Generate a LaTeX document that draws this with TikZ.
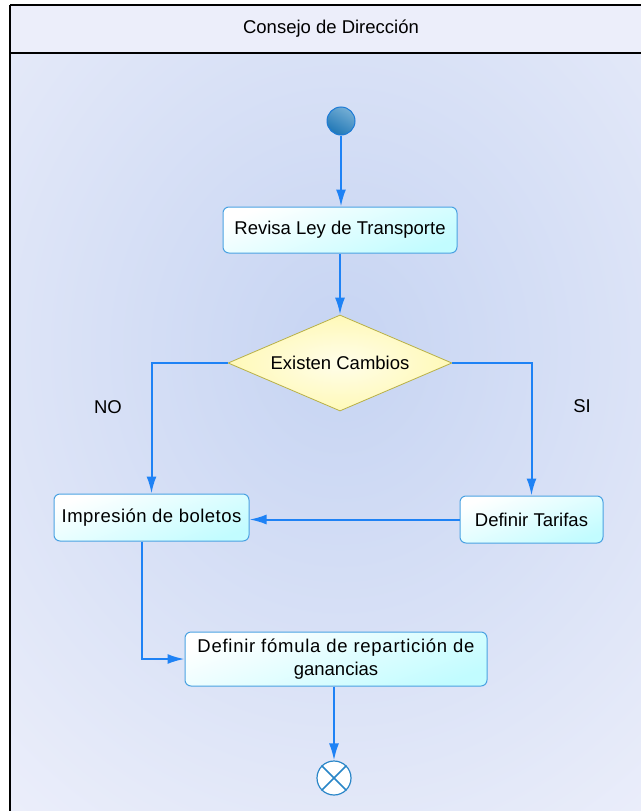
\documentclass[tikz,border=0pt]{standalone}
\usepackage{fontspec}
\setmainfont{Liberation Sans}
\usetikzlibrary{shapes.geometric,arrows.meta}
\definecolor{pagebg}{HTML}{EEF0FB}
\definecolor{glow}{HTML}{C6D4F2}
\definecolor{headbg}{HTML}{ECEEFA}
\definecolor{flow}{HTML}{1E82F5}
\definecolor{boxline}{HTML}{4AA2E2}
\definecolor{boxcyan}{HTML}{C2FCFF}
\definecolor{decline}{HTML}{B8B046}
\definecolor{decfill}{HTML}{FFF9B8}
\definecolor{startdark}{HTML}{2077B6}
\definecolor{startlight}{HTML}{74AED4}
\definecolor{startline}{HTML}{1C7AD6}
\definecolor{endline}{HTML}{2A86C8}
\tikzset{
  boxtext/.style={font=\fontsize{18.5}{23}\selectfont},
  actbox/.style={boxtext, draw=boxline, line width=1pt, rounded corners=6pt,
    top color=white, bottom color=boxcyan, shading angle=20,
    inner sep=0pt, align=center},
  decbox/.style={boxtext, diamond, aspect=2.33, draw=decline, line width=0.8pt,
    inner color=white!70!decfill, outer color=decfill, inner sep=0pt,
    minimum width=224pt, minimum height=96pt},
  flowline/.style={draw=flow, line width=2pt,
    -{Latex[length=17pt,width=10pt]}},
  guard/.style={font=\fontsize{18.5}{22}\selectfont},
}
\begin{document}
\begin{tikzpicture}[x=1pt,y=-1pt]
  \useasboundingbox (0,0) rectangle (640,811);
  % swimlane background with a soft glow behind the flow
  \fill[white] (0,0) rectangle (640,811);
  \begin{scope}
    \clip (10,53) rectangle (641,812);
    \fill[pagebg] (10,53) rectangle (641,812);
    \shade[inner color=glow, outer color=pagebg] (340,350) ellipse (560 and 640);
  \end{scope}
  \fill[headbg] (10,5) rectangle (641,53);
  \draw[line width=1.3pt] (10,5) -- (641,5);
  \draw[line width=1.8pt] (10,53) -- (641,53);
  \draw[line width=1.3pt] (10,5) -- (10,812);
  \node (lane) at (331,29) {\fontsize{18.5}{22}\selectfont Consejo de Direcci\'on};

  % start and end
  \node[circle, draw=startline, line width=1pt, minimum size=28pt, inner sep=0pt,
        top color=startlight, bottom color=startdark, shading angle=-30] (start) at (341,121) {};
  \node[circle, draw=endline, line width=1.2pt, fill=white, minimum size=34pt, inner sep=0pt] (stop) at (334,778) {};
  \draw[endline, line width=1.6pt] (stop.north west) -- (stop.south east)
                                   (stop.north east) -- (stop.south west);

  % actions and decision
  \node[actbox, minimum width=234pt, minimum height=46pt] (revisa) at (340,230) {Revisa Ley de Transporte};
  \node[decbox] (cambios) at (340,363) {Existen Cambios};
  \node[actbox, minimum width=195pt, minimum height=47pt] (impresion) at (151.5,517.5)
     {\addfontfeatures{LetterSpace=2.5}Impresi\'on de boletos};
  \node[actbox, minimum width=143pt, minimum height=47pt] (tarifas) at (531.5,519.5) {Definir Tarifas};
  \node[actbox, minimum width=302pt, minimum height=54pt] (formula) at (336,659)
     {\addfontfeatures{LetterSpace=4}Definir f\'omula de repartici\'on de\\ganancias};

  % guards
  \node[guard] (no) at (108,407) {NO};
  \node[guard] (si) at (582,406) {SI};

  % flows
  \draw[flowline] (start.south) -- (start.south |- revisa.north);
  \draw[flowline] (revisa.south) -- (cambios.north);
  \draw[flowline] (cambios.west) -| (impresion.north);
  \draw[flowline] (cambios.east) -| (tarifas.north);
  \draw[flowline] (tarifas.west) -- (tarifas.west -| impresion.east);
  \coordinate (impout) at ([xshift=-9.5pt]impresion.south);
  \draw[flowline] (impout) |- (formula.west);
  \draw[flowline] (stop.north |- formula.south) -- (stop.north);
\end{tikzpicture}
\end{document}
